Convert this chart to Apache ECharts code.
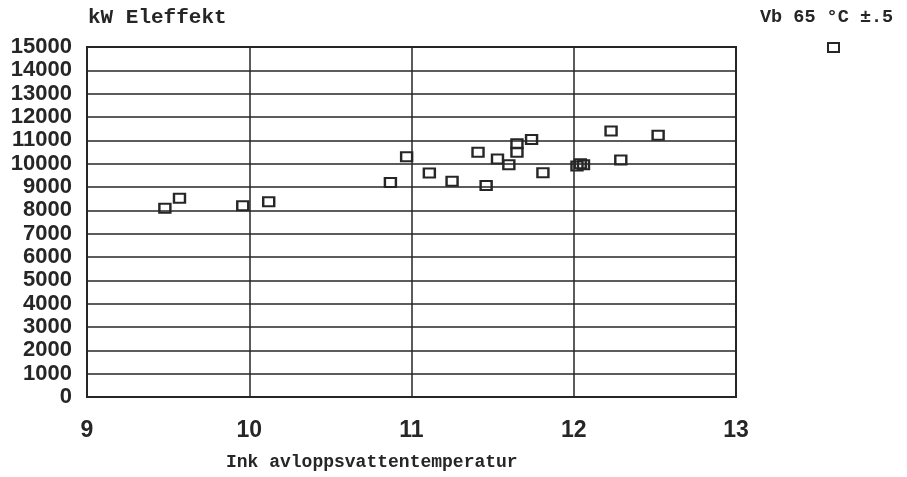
<!DOCTYPE html>
<html>
<head>
<meta charset="utf-8">
<script src="https://cdn.jsdelivr.net/npm/echarts@6/dist/echarts.min.js"></script>
<style>html,body{margin:0;padding:0;background:#fff;}#c{width:907px;height:477px;}</style>
</head>
<body>
<div id="c"></div>
<script>
const temps = [9.48, 9.57, 9.96, 10.12, 10.87, 10.97, 11.11, 11.25, 11.41, 11.46, 11.53, 11.60, 11.65, 11.65, 11.74, 11.81, 12.02, 12.04, 12.06, 12.23, 12.29, 12.52];
const power = [8090, 8520, 8200, 8370, 9190, 10300, 9600, 9250, 10490, 9060, 10200, 9950, 10490, 10850, 11040, 9610, 9900, 10000, 9950, 11400, 10160, 11220];
const seriesName = 'Vb 65 °C ±.5';
const yLabel = 'kW Eleffekt';
const xLabel = 'Ink avloppsvattentemperatur';

const chart = echarts.init(document.getElementById('c'));
const ink = '#262626';
chart.setOption({
  backgroundColor: '#fff',
  animation: false,
  grid: {left: 87, right: 171, top: 47, bottom: 80, show: true, borderColor: ink, borderWidth: 2, backgroundColor: 'transparent'},
  legend: {
    data: [seriesName], left: 827, top: 42, padding: 0, itemWidth: 11, itemHeight: 9, icon: 'rect',
    formatter: () => '', selectedMode: false,
    itemStyle: {color: 'rgba(255,255,255,0)', borderColor: ink, borderWidth: 2}
  },
  graphic: [
    {type: 'text', left: 88, top: 7, style: {text: yLabel, font: 'bold 21px "Liberation Mono", "DejaVu Sans Mono", monospace', fill: ink}},
    {type: 'text', left: 760, top: 8, style: {text: seriesName, font: 'bold 18.5px "Liberation Mono", "DejaVu Sans Mono", monospace', fill: ink}},
    {type: 'text', left: 226, top: 453, style: {text: xLabel, font: 'bold 18px "Liberation Mono", "DejaVu Sans Mono", monospace', fill: ink}}
  ],
  xAxis: {
    type: 'value', min: 9, max: 13, interval: 1,
    axisLine: {show: true, lineStyle: {color: ink, width: 2}},
    axisTick: {show: false},
    axisLabel: {margin: 22, color: ink, fontSize: 23, fontWeight: 'bold', fontFamily: '"Liberation Sans Narrow", "Liberation Sans", Arial, sans-serif'},
    splitLine: {show: true, lineStyle: {color: ink, width: 1.5}}
  },
  yAxis: {
    type: 'value', min: 0, max: 15000, interval: 1000,
    axisLine: {show: true, lineStyle: {color: ink, width: 2}},
    axisTick: {show: false},
    axisLabel: {margin: 15, color: ink, fontSize: 22, fontWeight: 'bold', fontFamily: '"Liberation Sans", Arial, sans-serif', lineHeight: 22, formatter: v => String(v)},
    splitLine: {show: true, lineStyle: {color: ink, width: 1.5}}
  },
  series: [{
    name: seriesName, type: 'scatter', symbol: 'rect', symbolSize: [11, 9],
    itemStyle: {color: 'rgba(255,255,255,0)', borderColor: ink, borderWidth: 2.2, opacity: 1},
    data: temps.map((t, i) => [t, power[i]])
  }]
});
</script>
</body>
</html>
